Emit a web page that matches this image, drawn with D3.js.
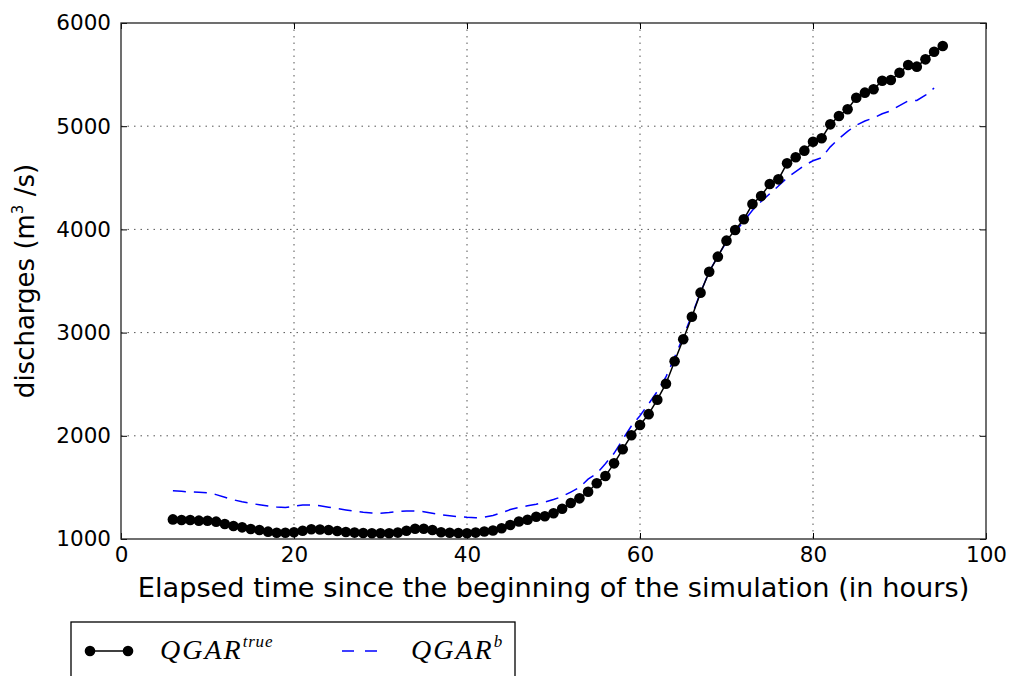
<!DOCTYPE html>
<html>
<head>
<meta charset="utf-8">
<script src="https://cdn.jsdelivr.net/npm/d3@7"></script>
<style>
  body { margin: 0; background: #fff; }
  text { fill: #000; }
</style>
</head>
<body>
<div id="chart"></div>
<script>
// hours and discharges
const hoursTrue = [6, 7, 8, 9, 10, 11, 12, 13, 14, 15, 16, 17, 18, 19, 20, 21, 22, 23, 24, 25,
  26, 27, 28, 29, 30, 31, 32, 33, 34, 35, 36, 37, 38, 39, 40, 41, 42, 43, 44, 45,
  46, 47, 48, 49, 50, 51, 52, 53, 54, 55, 56, 57, 58, 59, 60, 61, 62, 63, 64, 65,
  66, 67, 68, 69, 70, 71, 72, 73, 74, 75, 76, 77, 78, 79, 80, 81, 82, 83, 84, 85,
  86, 87, 88, 89, 90, 91, 92, 93, 94, 95];
const qgarTrue = [1190, 1184, 1184, 1178, 1177, 1168, 1145, 1126, 1113, 1097, 1087, 1071, 1061, 1060, 1065, 1080, 1094, 1092, 1087, 1078,
  1068, 1062, 1058, 1055, 1055, 1055, 1062, 1080, 1100, 1100, 1087, 1066, 1060, 1058, 1055, 1062, 1072, 1082, 1104, 1136,
  1170, 1186, 1216, 1220, 1249, 1293, 1349, 1394, 1458, 1540, 1610, 1733, 1869, 2005, 2105, 2210, 2350, 2505, 2722, 2935,
  3154, 3387, 3590, 3736, 3891, 3994, 4098, 4246, 4324, 4440, 4485, 4640, 4699, 4763, 4850, 4883, 5018, 5099, 5164, 5276,
  5325, 5358, 5441, 5448, 5518, 5593, 5577, 5648, 5722, 5777];

const hoursB = [6, 7, 8, 9, 10, 11, 12, 13, 14, 15, 16, 17, 18, 19, 20, 21, 22, 23, 24, 25,
  26, 27, 28, 29, 30, 31, 32, 33, 34, 35, 36, 37, 38, 39, 40, 41, 42, 43, 44, 45,
  46, 47, 48, 49, 50, 51, 52, 53, 54, 55, 56, 57, 58, 59, 60, 61, 62, 63, 64, 65,
  66, 67, 68, 69, 70, 71, 72, 73, 74, 75, 76, 77, 78, 79, 80, 81, 82, 83, 84, 85,
  86, 87, 88, 89, 90, 91, 92, 93, 94];
const qgarB = [1468, 1462, 1456, 1452, 1448, 1430, 1405, 1380, 1360, 1345, 1332, 1320, 1310, 1305, 1318, 1330, 1330, 1322, 1308, 1295,
  1282, 1270, 1260, 1252, 1250, 1256, 1265, 1272, 1270, 1265, 1250, 1236, 1226, 1216, 1210, 1206, 1212, 1228, 1255, 1285,
  1306, 1322, 1337, 1358, 1382, 1412, 1455, 1500, 1580, 1635, 1730, 1830, 1965, 2095, 2195, 2310, 2430, 2570, 2760, 2960,
  3170, 3390, 3590, 3740, 3880, 3975, 4080, 4185, 4270, 4345, 4420, 4500, 4560, 4620, 4665, 4695, 4800, 4880, 4950, 5010,
  5050, 5080, 5120, 5150, 5200, 5245, 5250, 5300, 5370];

const xTicks = [0, 20, 40, 60, 80, 100];
const yTicks = [1000, 2000, 3000, 4000, 5000, 6000];

const W = 1009, H = 676;
const margin = { top: 23, right: 23, bottom: 137, left: 121 };
const width = W - margin.left - margin.right;
const height = H - margin.top - margin.bottom;

const svg = d3.select("#chart").append("svg")
  .attr("width", W)
  .attr("height", H)
  .attr("font-family", "DejaVu Sans");

const g = svg.append("g")
  .attr("transform", `translate(${margin.left}, ${margin.top})`);

const x = d3.scaleLinear().domain([0, 100]).range([0, width]);
const y = d3.scaleLinear().domain([1000, 6000]).range([height, 0]);

// dotted grid
g.append("g").selectAll("line").data(xTicks.slice(1, -1)).enter().append("line")
  .attr("x1", d => x(d)).attr("x2", d => x(d))
  .attr("y1", 0).attr("y2", height)
  .attr("stroke", "#555").attr("stroke-width", 1).attr("stroke-dasharray", "1.5,5");
g.append("g").selectAll("line").data(yTicks.slice(1, -1)).enter().append("line")
  .attr("x1", 0).attr("x2", width)
  .attr("y1", d => y(d)).attr("y2", d => y(d))
  .attr("stroke", "#555").attr("stroke-width", 1).attr("stroke-dasharray", "1.5,5");

const trueData = hoursTrue.map((h, i) => ({ h, v: qgarTrue[i] }));
const bData = hoursB.map((h, i) => ({ h, v: qgarB[i] }));
const line = d3.line().x(d => x(d.h)).y(d => y(d.v));

g.append("path").datum(bData)
  .attr("d", line)
  .attr("fill", "none")
  .attr("stroke", "#0000ff")
  .attr("stroke-width", 1.5)
  .attr("stroke-dasharray", "13,8");

g.append("path").datum(trueData)
  .attr("d", line)
  .attr("fill", "none")
  .attr("stroke", "#000")
  .attr("stroke-width", 1.5);

g.selectAll(".dot").data(trueData).enter().append("circle")
  .attr("class", "dot")
  .attr("cx", d => x(d.h))
  .attr("cy", d => y(d.v))
  .attr("r", 5.3)
  .attr("fill", "#000");

// axes with inward ticks, on all four sides
const tickLen = 6;
const fmt = d3.format("d");
const xAxis = g.append("g").attr("transform", `translate(0, ${height})`)
  .call(d3.axisBottom(x).tickValues(xTicks).tickSize(-tickLen).tickPadding(8).tickFormat(fmt));
g.append("g")
  .call(d3.axisTop(x).tickValues(xTicks).tickSize(-tickLen).tickFormat(""));
const yAxis = g.append("g")
  .call(d3.axisLeft(y).tickValues(yTicks).tickSize(-tickLen).tickPadding(10).tickFormat(fmt));
g.append("g").attr("transform", `translate(${width}, 0)`)
  .call(d3.axisRight(y).tickValues(yTicks).tickSize(-tickLen).tickFormat(""));

g.selectAll(".domain").remove();
g.selectAll(".tick line").attr("stroke", "#000").attr("stroke-width", 1);
xAxis.attr("font-family", "DejaVu Sans").attr("font-size", "21.5px");
yAxis.attr("font-family", "DejaVu Sans").attr("font-size", "21.5px");
g.selectAll(".tick text").attr("fill", "#000");

g.append("rect")
  .attr("width", width).attr("height", height)
  .attr("fill", "none").attr("stroke", "#222").attr("stroke-width", 1.3);

// axis labels
svg.append("text")
  .attr("x", margin.left + width / 2)
  .attr("y", 597)
  .attr("text-anchor", "middle")
  .attr("font-size", "27.2px")
  .text("Elapsed time since the beginning of the simulation (in hours)");

const yl = svg.append("text")
  .attr("transform", `translate(34, ${margin.top + height / 2}) rotate(-90)`)
  .attr("text-anchor", "middle")
  .attr("font-size", "26px");
yl.append("tspan").text("discharges (m");
yl.append("tspan").attr("font-size", "15px").attr("dy", -11).text("3");
yl.append("tspan").attr("dy", 11).text(" /s)");

// legend
const leg = svg.append("g");
leg.append("rect")
  .attr("x", 71).attr("y", 622).attr("width", 444).attr("height", 80)
  .attr("fill", "#fff").attr("stroke", "#000").attr("stroke-width", 1.3);
leg.append("line")
  .attr("x1", 90).attr("x2", 128).attr("y1", 651).attr("y2", 651)
  .attr("stroke", "#000").attr("stroke-width", 1.5);
leg.selectAll(".ldot").data([90, 128]).enter().append("circle")
  .attr("cx", d => d).attr("cy", 651).attr("r", 5.3).attr("fill", "#000");
const t1 = leg.append("text").attr("x", 160).attr("y", 659)
  .attr("font-family", "Liberation Serif").attr("font-style", "italic").attr("font-size", "28px");
t1.append("tspan").attr("letter-spacing", "2px").text("QGAR");
t1.append("tspan").attr("font-size", "17px").attr("dy", -12).attr("letter-spacing", "0.8px").text("true");
leg.append("line")
  .attr("x1", 342).attr("x2", 377).attr("y1", 651).attr("y2", 651)
  .attr("stroke", "#0000ff").attr("stroke-width", 1.5).attr("stroke-dasharray", "12,11");
const t2 = leg.append("text").attr("x", 411).attr("y", 659)
  .attr("font-family", "Liberation Serif").attr("font-style", "italic").attr("font-size", "28px");
t2.append("tspan").attr("letter-spacing", "2px").text("QGAR");
t2.append("tspan").attr("font-size", "17px").attr("dy", -12).text("b");
</script>
</body>
</html>
